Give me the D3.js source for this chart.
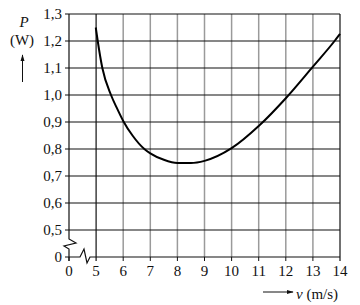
<!DOCTYPE html>
<html>
<head>
<meta charset="utf-8">
<script src="https://cdn.jsdelivr.net/npm/d3@7"></script>
<style>
  body { margin: 0; background: #fff; }
</style>
</head>
<body>
<div id="chart"></div>
<script>
// values
var speeds = [4.94, 5.06, 5.23, 5.55, 5.76, 6.0, 6.35, 6.78, 7.0, 7.5, 8.0, 8.5, 9.0, 10.0, 11.0, 12.0, 13.0, 13.8, 14.0];
var power  = [1.25, 1.20, 1.10, 1.0, 0.953, 0.904, 0.849, 0.80, 0.784, 0.760, 0.748, 0.748, 0.756, 0.803, 0.885, 0.988, 1.105, 1.20, 1.226];
var xTicks = [0, 5, 6, 7, 8, 9, 10, 11, 12, 13, 14];
var yTicks = [0, 0.5, 0.6, 0.7, 0.8, 0.9, 1.0, 1.1, 1.2, 1.3];

var width = 360, height = 305;
var serif = "'Liberation Serif', 'Times New Roman', 'DejaVu Serif', Times, serif";

var svg = d3.select("#chart").append("svg")
    .attr("width", width)
    .attr("height", height)
    .attr("font-family", serif);

// broken axes: 0..5 and 0..0.5 take one grid cell each
var x = d3.scaleLinear().domain([0, 5, 14]).range([69, 96.1, 340]);
var y = d3.scaleLinear().domain([0, 0.5, 1.3]).range([257, 230, 14]);

var fmt = function(d) { return d === 0 ? "0" : d3.format(".1f")(d).replace(".", ","); };

// vertical grid (grey)
svg.selectAll(".vgrid")
    .data(xTicks.filter(function(d) { return d > 5 && d < 14; }))
  .enter().append("line")
    .attr("x1", function(d) { return x(d); })
    .attr("x2", function(d) { return x(d); })
    .attr("y1", y(1.3))
    .attr("y2", y(0))
    .style("stroke", "#9a9a9a")
    .style("stroke-width", 1.5);

// horizontal grid (black)
svg.selectAll(".hgrid")
    .data(yTicks.filter(function(d) { return d >= 0.5; }))
  .enter().append("line")
    .attr("x1", x(0) - 4)
    .attr("x2", x(14))
    .attr("y1", function(d) { return y(d); })
    .attr("y2", function(d) { return y(d); })
    .style("stroke", "#111")
    .style("stroke-width", 1.1);

// v = 5 and v = 14 lines are black
svg.selectAll(".vblack")
    .data([5, 14])
  .enter().append("line")
    .attr("x1", function(d) { return x(d); })
    .attr("x2", function(d) { return x(d); })
    .attr("y1", y(1.3))
    .attr("y2", y(0) + 4)
    .style("stroke", "#111")
    .style("stroke-width", 1.2);

// axes with break marks
var axisPath = d3.line();
var x0 = x(0), y0 = y(0);
svg.append("path")
    .attr("d", axisPath([[x0, y(1.3)], [x0, 239], [x0 + 7, 243], [x0 - 5, 246], [x0, 249], [x0, y0 + 4]]))
    .style("fill", "none").style("stroke", "#111").style("stroke-width", 1.2);
svg.append("path")
    .attr("d", axisPath([[x0 - 4, y0], [80, y0], [84, y0 - 8], [87, y0 + 6], [90, y0], [x(14), y0]]))
    .style("fill", "none").style("stroke", "#111").style("stroke-width", 1.2);

// x tick marks + labels
svg.selectAll(".xtick")
    .data(xTicks.filter(function(d) { return d !== 5 && d !== 14; }))
  .enter().append("line")
    .attr("x1", function(d) { return x(d); })
    .attr("x2", function(d) { return x(d); })
    .attr("y1", y0)
    .attr("y2", y0 + 4)
    .style("stroke", "#111");

svg.selectAll(".xlab")
    .data(xTicks)
  .enter().append("text")
    .attr("x", function(d) { return x(d); })
    .attr("y", 276)
    .attr("text-anchor", "middle")
    .attr("font-size", 15)
    .attr("fill", "#111")
    .text(function(d) { return d; });

svg.selectAll(".ylab")
    .data(yTicks)
  .enter().append("text")
    .attr("x", 62)
    .attr("y", function(d) { return y(d) + 5; })
    .attr("text-anchor", "end")
    .attr("font-size", 15)
    .attr("fill", "#111")
    .text(fmt);

// axis titles
svg.append("text").attr("x", 24).attr("y", 27).attr("text-anchor", "middle")
    .attr("font-size", 15).attr("font-style", "italic").attr("fill", "#111").text("P");
svg.append("text").attr("x", 22).attr("y", 45).attr("text-anchor", "middle")
    .attr("font-size", 15).attr("fill", "#111").text("(W)");

svg.append("defs").append("marker")
    .attr("id", "arr")
    .attr("viewBox", "0 0 10 10")
    .attr("refX", 9).attr("refY", 5)
    .attr("markerWidth", 7).attr("markerHeight", 7)
    .attr("orient", "auto")
  .append("path")
    .attr("d", "M0,2 L10,5 L0,8 Z")
    .style("fill", "#111");

svg.append("line").attr("x1", 22.5).attr("x2", 22.5).attr("y1", 82).attr("y2", 55)
    .style("stroke", "#111").style("stroke-width", 1).attr("marker-end", "url(#arr)");
svg.append("line").attr("x1", 263).attr("x2", 293).attr("y1", 292).attr("y2", 292)
    .style("stroke", "#111").style("stroke-width", 1).attr("marker-end", "url(#arr)");

var xt = svg.append("text").attr("x", 296).attr("y", 299).attr("font-size", 15).attr("fill", "#111");
xt.append("tspan").attr("font-style", "italic").text("v");
xt.append("tspan").text(" (m/s)");

// the curve
var pts = speeds.map(function(d, i) { return [d, power[i]]; });
var line = d3.line()
    .x(function(d) { return x(d[0]); })
    .y(function(d) { return y(d[1]); })
    .curve(d3.curveMonotoneX);

svg.append("path")
    .datum(pts)
    .attr("d", line)
    .style("fill", "none")
    .style("stroke", "#000")
    .style("stroke-width", 2);
</script>
</body>
</html>
